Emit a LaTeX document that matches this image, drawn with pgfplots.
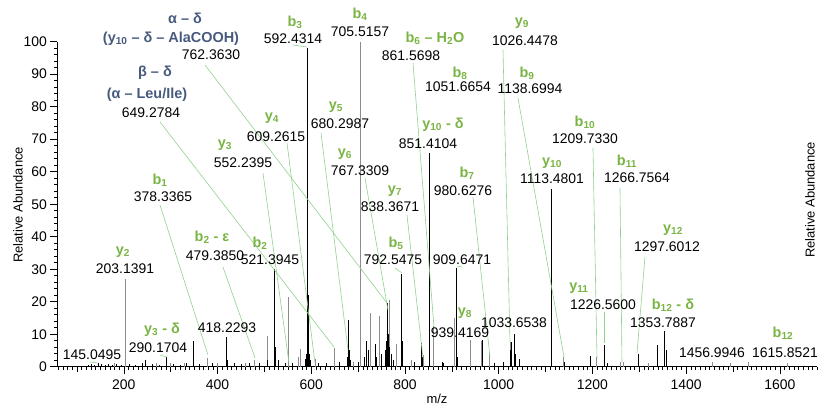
\documentclass[border=0pt]{standalone}
\usepackage{fontspec}
\setmainfont{Liberation Sans}
\usepackage{pgfplots}
\usepackage{pgfplotstable}
\pgfplotsset{compat=1.18}
\definecolor{IonGreen}{HTML}{7AB444}
\definecolor{LinkGreen}{HTML}{8FD38A}
\definecolor{SlateBlue}{HTML}{475A7E}
\definecolor{PeakGray}{HTML}{8C8C8C}

\tikzset{
  num/.style={font=\fontsize{14}{16}\selectfont},
  ion/.style={text=IonGreen, font=\bfseries\fontsize{14.5}{16}\selectfont},
  blu/.style={text=SlateBlue, font=\bfseries\fontsize{14.5}{16}\selectfont},
  axl/.style={font=\fontsize{13}{15}\selectfont, rotate=90},
}

\newcommand\sub[1]{\textsubscript{#1}}
% label / link helpers, positions given in picture pixels of the reference
\newcommand\lab[4][num]{\node[#1, inner sep=0pt] at (axis cs:{58+(#2-57.3)/0.46857},{(366.7-#3)/3.25}) {#4};}
\newcommand\lnk[4]{\draw[LinkGreen, line width=0.6pt] (axis cs:{58+(#1-57.3)/0.46857},{(366.7-#2)/3.25}) -- (axis cs:{58+(#3-57.3)/0.46857},{(366.7-#4)/3.25});}

\pgfplotstableread{
mz h
124 0.6
130 0.9
138 0.5
145 1.0
152 0.7
160 0.6
168 0.8
176 0.5
185 0.7
195 0.6
212 0.8
225 0.6
240 1.2
246.5 2.2
262 0.8
275 0.6
291 3.0
305 0.8
320 0.6
334 1.0
348.6 8.0
362 0.8
390 1.0
418.2 9.1
420 2
435 1
450 0.8
468 1
490 1.2
507 2.0
521.4 30.0
524 6.2
530 2.0
545 1.0
560 1
588 2.5
590 4
592.4 98
594 22
596 4
598 2
615 1.2
632 1.0
660 1.5
678 3
680.3 14.4
682 5
684 2
700 1.5
714 3
718 8
722 5
736 7
740 3
750 4
758 5
760 8
762.4 19.6
764 10
766 6
770 4
775 2
792.5 28.6
794 8
820 1.5
835.7 7.3
837 3
851.4 65.8
880 1.5
882 1.2
909.6 30.5
912 3
966 8.3
990 1
1010 1.5
1025 5
1027 7.7
1033.7 10
1036 4
1045 2.5
1113.5 54.8
1141 1.5
1195 3.2
1226.6 6.8
1232 1
1297.6 3.9
1339 6.8
1353.8 10.9
1357 5
}\blackpeaks

\pgfplotstableread{
mz h
180 1
203.1 27
270 1
300 1
330 1
378.3 2.8
400 1
460 1.2
479.4 2.2
505.7 9.5
552.2 21.4
572 3
577 5.5
609.3 2.5
649.3 5.8
690 1.5
705.5 100
727 16.6
746 15.7
766 20.5
781 7
814 2
838.4 3.5
861.6 12.4
905 15
939.4 8.3
964 8
980.6 4.3
1026 7.5
1138.7 3
1209.7 2.9
1260 1.5
1266.8 1.3
1320 1
1457 1.5
1495 1
1534 1.5
1615.9 1
}\graypeaks

\begin{document}
\begin{tikzpicture}
\begin{axis}[
  at={(0,0)}, anchor=south west,
  scale only axis, width=760bp, height=325bp,
  xmin=58, xmax=1680, ymin=0, ymax=100,
  axis x line=bottom, axis y line=left,
  axis line style={-, black, line width=0.6pt},
  tick align=outside, major tick length=7bp, minor tick length=3.5bp,
  tick style={black, line width=0.5pt},
  xtick={200,400,...,1600},
  minor xtick={60,70,...,1680},
  extra x ticks={100,300,...,1500}, extra x tick labels={},
  extra x tick style={major tick length=5bp},
  ytick={0,10,...,100}, minor y tick num=4,
  tick label style={font=\fontsize{14}{16}\selectfont},
  xticklabel style={yshift=-3bp},
  /pgf/number format/assume math mode=true,
  /pgf/number format/1000 sep={},
  clip=false,
]
\addplot[ycomb, PeakGray, line width=0.9pt, mark=none] table {\graypeaks};
\addplot[ycomb, black, line width=0.8pt, mark=none] table {\blackpeaks};

% link lines from labels to peaks
\lnk{205}{65}{387}{303}
\lnk{160}{122}{334}{347}
\lnk{293}{45}{307}{47}
\lnk{413}{63}{434}{327}
\lnk{503}{50}{510}{342}
\lnk{518}{98}{564}{357}
\lnk{321}{133}{348}{350}
\lnk{287}{143}{315}{363}
\lnk{263}{173}{289}{363}
\lnk{160}{205}{208}{355}
\lnk{223}{267}{255}{358}
\lnk{365}{178}{388}{310}
\lnk{407}{215}{423}{358}
\lnk{473}{197}{490}{357}
\lnk{395}{268}{402}{273}
\lnk{457}{267}{462}{266}
\lnk{593}{148}{597}{358}
\lnk{620}{188}{622}{362}
\lnk{645}{257}{637}{353}
\lnk{604}{312}{604}{343}
\lnk{160}{355}{167}{357}
\lnk{90}{362}{98}{363}

% annotations
\lab[blu]{185}{18}{α – δ}
\lab[blu]{171}{39}{(y\sub{10} – δ – AlaCOOH)}
\lab{211}{55}{762.3630}
\lab[blu]{155}{73}{β – δ}
\lab[blu]{147}{95}{(α – Leu/Ile)}
\lab{151}{113}{649.2784}
\lab[ion]{295}{22}{b\sub{3}}
\lab{293}{39}{592.4314}
\lab[ion]{360}{14}{b\sub{4}}
\lab{360}{32}{705.5157}
\lab[ion]{435}{38}{b\sub{6} – H\sub{2}O}
\lab{411}{56}{861.5698}
\lab[ion]{522}{23}{y\sub{9}}
\lab{525}{41}{1026.4478}
\lab[ion]{460}{73}{b\sub{8}}
\lab{458}{87}{1051.6654}
\lab[ion]{527}{73}{b\sub{9}}
\lab{530}{89}{1138.6994}
\lab[ion]{336}{107}{y\sub{5}}
\lab{340}{124}{680.2987}
\lab[ion]{272}{118}{y\sub{4}}
\lab{276}{137}{609.2615}
\lab[ion]{225}{145}{y\sub{3}}
\lab{243}{163}{552.2395}
\lab[ion]{160}{180}{b\sub{1}}
\lab{163}{197}{378.3365}
\lab[ion]{123}{252}{y\sub{2}}
\lab{125}{269}{203.1391}
\lab[ion]{212}{237}{b\sub{2} - ε}
\lab{215}{256}{479.3850}
\lab[ion]{260}{243}{b\sub{2}}
\lab{270}{260}{521.3945}
\lab[ion]{345}{154}{y\sub{6}}
\lab{360}{171}{767.3309}
\lab[ion]{395}{191}{y\sub{7}}
\lab{390}{207}{838.3671}
\lab[ion]{443}{125}{y\sub{10} - δ}
\lab{428}{144}{851.4104}
\lab[ion]{467}{173}{b\sub{7}}
\lab{463}{191}{980.6276}
\lab[ion]{396}{243}{b\sub{5}}
\lab{393}{260}{792.5475}
\lab{462}{260}{909.6471}
\lab[ion]{552}{163}{y\sub{10}}
\lab{552}{179}{1113.4801}
\lab[ion]{585}{122}{b\sub{10}}
\lab{585}{139}{1209.7330}
\lab[ion]{627}{161}{b\sub{11}}
\lab{637}{178}{1266.7564}
\lab[ion]{673}{230}{y\sub{12}}
\lab{667}{247}{1297.6012}
\lab[ion]{579}{288}{y\sub{11}}
\lab{603}{305}{1226.5600}
\lab[ion]{673}{305}{b\sub{12} - δ}
\lab{663}{323}{1353.7887}
\lab{712}{353}{1456.9946}
\lab[ion]{783}{333}{b\sub{12}}
\lab{785}{353}{1615.8521}
\lab[ion]{465}{313}{y\sub{8}}
\lab{460}{333}{939.4169}
\lab{514}{323}{1033.6538}
\lab[ion]{162}{330}{y\sub{3} - δ}
\lab{158}{348}{290.1704}
\lab{227}{328}{418.2293}
\lab{92}{355}{145.0495}

% axis titles
\lab[axl]{18}{205}{Relative Abundance}
\lab[axl]{810}{200}{Relative Abundance}
\lab[num]{437}{399}{\fontsize{13}{15}\selectfont m/z}
\end{axis}
\pgfresetboundingbox
\useasboundingbox (-57.3bp,-41.3bp) rectangle (761.7bp,366.7bp);
\end{tikzpicture}
\end{document}
